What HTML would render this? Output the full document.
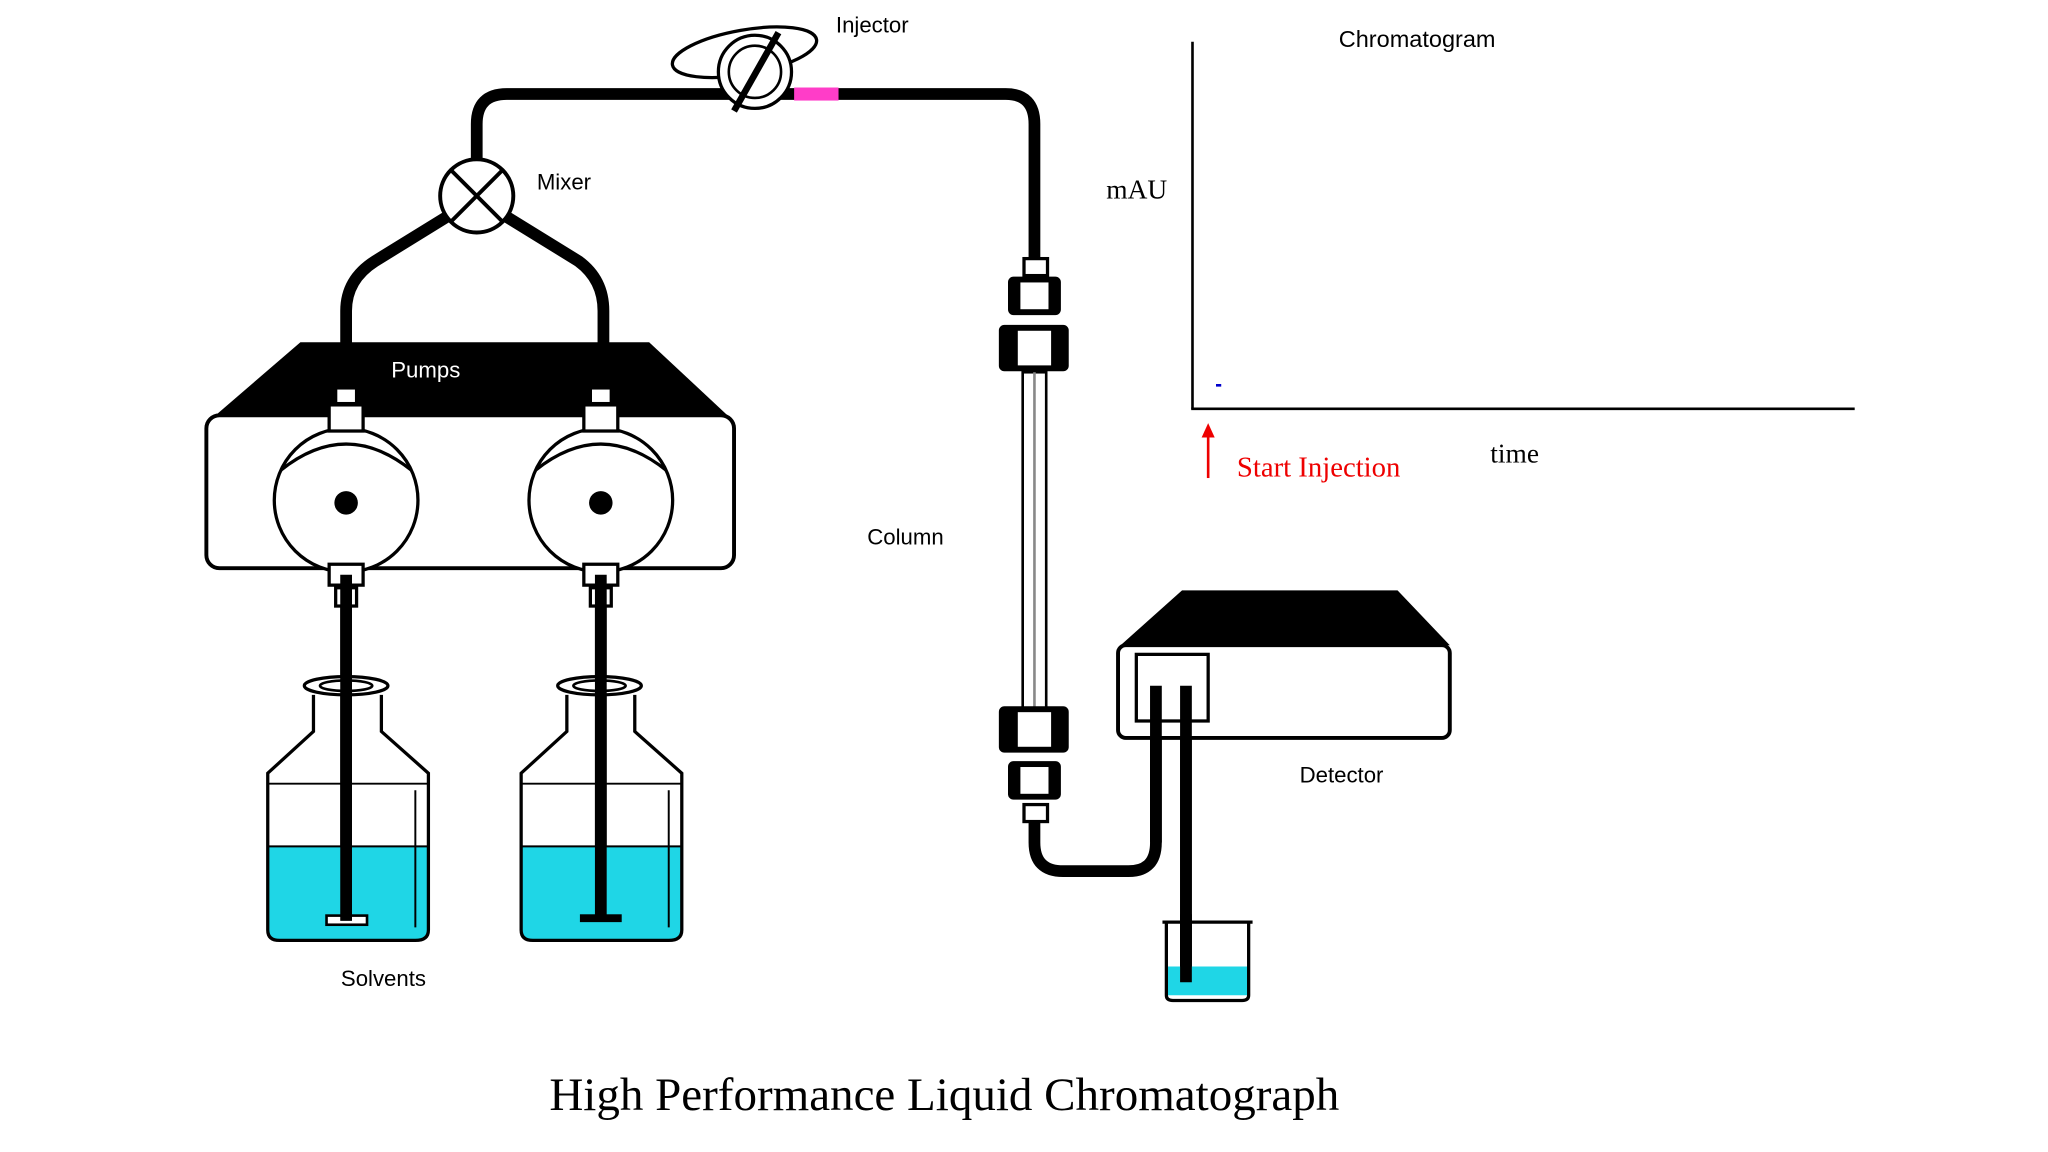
<!DOCTYPE html>
<html><head><meta charset="utf-8"><style>
html,body{margin:0;padding:0;background:#fff;}
svg{display:block}
.s{font-family:"Liberation Sans",sans-serif;font-size:17px;fill:#000}
.r{font-family:"Liberation Serif",serif;fill:#000}
</style></head><body>
<svg width="2048" height="1152" viewBox="0 0 1568 882" xmlns="http://www.w3.org/2000/svg">
<rect width="1568" height="882" fill="#fff"/>
<g fill="none" stroke="#000" stroke-width="9" stroke-linecap="butt">
<path d="M365,130 V95 Q365,72 388,72 H770 Q792,72 792,95 V200"/>
<path d="M347,163 L287,200 Q265,214 265,238 V264"/>
<path d="M383,163 L443,200 Q462,214 462,238 V264"/>
<path d="M265,440 V705"/><path d="M460,440 V705"/>
<path d="M792,628 V645 Q792,667 814,667 H864 Q885,667 885,645 V525"/>
<path d="M908,525 V752"/>
</g>
<rect x="608" y="67" width="34" height="10" fill="#ff3dc8"/>
<ellipse cx="570" cy="40" rx="56" ry="17" transform="rotate(-10 570 40)" fill="#fff" stroke="#000" stroke-width="2.5"/>
<circle cx="578" cy="55" r="28" fill="#fff" stroke="#000" stroke-width="2.5"/>
<circle cx="578" cy="55" r="20" fill="#fff" stroke="#000" stroke-width="2"/>
<line x1="562" y1="85" x2="596" y2="25" stroke="#000" stroke-width="5"/>
<circle cx="365" cy="150" r="28" fill="#fff" stroke="#000" stroke-width="3"/>
<line x1="345" y1="130" x2="385" y2="170" stroke="#000" stroke-width="3"/>
<line x1="385" y1="130" x2="345" y2="170" stroke="#000" stroke-width="3"/>
<polygon points="230,262 497,262 557,318 165,318" fill="#000"/>
<rect x="158" y="318" width="404" height="117" rx="10" fill="#fff" stroke="#000" stroke-width="3"/>
<text x="326" y="289" class="s" style="fill:#fff" text-anchor="middle">Pumps</text>
<g stroke="#000" stroke-width="2.5">
<circle cx="265" cy="383" r="55" fill="#fff"/><circle cx="460" cy="383" r="55" fill="#fff"/>
<path d="M215,360 Q265,320 315,360" fill="none"/><path d="M410,360 Q460,320 510,360" fill="none"/>
<rect x="257" y="297" width="16" height="12" fill="#fff"/><rect x="252" y="310" width="26" height="20" fill="#fff"/>
<rect x="452" y="297" width="16" height="12" fill="#fff"/><rect x="447" y="310" width="26" height="20" fill="#fff"/>
<rect x="252" y="432" width="26" height="16" fill="#fff"/><rect x="257" y="450" width="16" height="14" fill="#fff"/>
<rect x="447" y="432" width="26" height="16" fill="#fff"/><rect x="452" y="450" width="16" height="14" fill="#fff"/>
</g>
<circle cx="265" cy="385" r="9"/><circle cx="460" cy="385" r="9"/>
<g id="b1">
<path d="M205,648 H328 V712 Q328,720 318,720 H214 Q205,720 205,712 Z" fill="#1fd6e6"/>
<path d="M240,532 V560 L205,592 V712 Q205,720 214,720 H318 Q328,720 328,712 V592 L292,560 V532" fill="none" stroke="#000" stroke-width="2.5"/>
<ellipse cx="265" cy="525" rx="32" ry="7" fill="#fff" stroke="#000" stroke-width="2.5"/>
<ellipse cx="265" cy="525" rx="20" ry="4" fill="none" stroke="#000" stroke-width="2"/>
<line x1="205" y1="600" x2="328" y2="600" stroke="#000" stroke-width="1.5"/>
<line x1="205" y1="648" x2="328" y2="648" stroke="#000" stroke-width="1.5"/>
<line x1="318" y1="605" x2="318" y2="710" stroke="#000" stroke-width="1.5"/>
</g>
<use href="#b1" transform="translate(194,0)"/>
<rect x="250" y="701" width="31" height="7" fill="#fff" stroke="#000" stroke-width="2"/>
<rect x="444" y="700" width="32" height="6" fill="#000"/>
<path d="M265,440 V705 M460,440 V705" stroke="#000" stroke-width="9"/>
<rect x="783" y="285" width="18" height="258" fill="#fff" stroke="#000" stroke-width="2"/>
<line x1="792" y1="285" x2="792" y2="543" stroke="#888" stroke-width="2"/>
<g stroke="#000" stroke-width="2.5">
<rect x="784" y="198" width="18" height="13" fill="#fff"/>
<rect x="773" y="213" width="38" height="27" rx="3" fill="#000"/><rect x="780" y="215" width="24" height="23" fill="#fff"/>
<rect x="766" y="250" width="51" height="33" rx="3" fill="#000"/><rect x="778" y="252" width="28" height="29" fill="#fff"/>
<rect x="766" y="542" width="51" height="33" rx="3" fill="#000"/><rect x="778" y="544" width="28" height="29" fill="#fff"/>
<rect x="773" y="584" width="38" height="27" rx="3" fill="#000"/><rect x="780" y="586" width="24" height="23" fill="#fff"/>
<rect x="784" y="616" width="18" height="13" fill="#fff"/>
</g>
<polygon points="905,452 1070,452 1110,494 858,494" fill="#000"/>
<rect x="856" y="494" width="254" height="71" rx="6" fill="#fff" stroke="#000" stroke-width="3"/>
<rect x="870" y="501" width="55" height="51" fill="#fff" stroke="#000" stroke-width="2.5"/>
<path d="M885,525 V645 M908,525 V752" stroke="#000" stroke-width="9"/>
<path d="M893,740 H956 V762 H893 Z" fill="#1fd6e6"/>
<path d="M893,707 V762 Q893,766 898,766 H951 Q956,766 956,762 V707" fill="none" stroke="#000" stroke-width="2.5"/>
<line x1="890" y1="706" x2="959" y2="706" stroke="#000" stroke-width="2.5"/>
<line x1="908" y1="700" x2="908" y2="752" stroke="#000" stroke-width="9"/>
<line x1="913" y1="32" x2="913" y2="313" stroke="#000" stroke-width="2"/>
<line x1="912" y1="313" x2="1420" y2="313" stroke="#000" stroke-width="2"/>
<line x1="931" y1="295" x2="935" y2="295" stroke="#00c" stroke-width="2"/>
<line x1="925" y1="366" x2="925" y2="332" stroke="#e00" stroke-width="2"/>
<polygon points="925,324 920,335 930,335" fill="#e00"/>
<text x="640" y="25" class="s">Injector</text>
<text x="411" y="145" class="s">Mixer</text>
<text x="664" y="417" class="s">Column</text>
<text x="995" y="599" class="s">Detector</text>
<text x="261" y="755" class="s">Solvents</text>
<text x="1025" y="36" class="s" font-size="18" style="font-size:18px">Chromatogram</text>
<text x="847" y="152" class="r" font-size="21">mAU</text>
<text x="1141" y="354" class="r" font-size="21">time</text>
<text x="947" y="365" class="r" font-size="22" style="fill:#e00">Start Injection</text>
<text x="723" y="850" class="r" font-size="36" text-anchor="middle">High Performance Liquid Chromatograph</text>
</svg>
</body></html>
